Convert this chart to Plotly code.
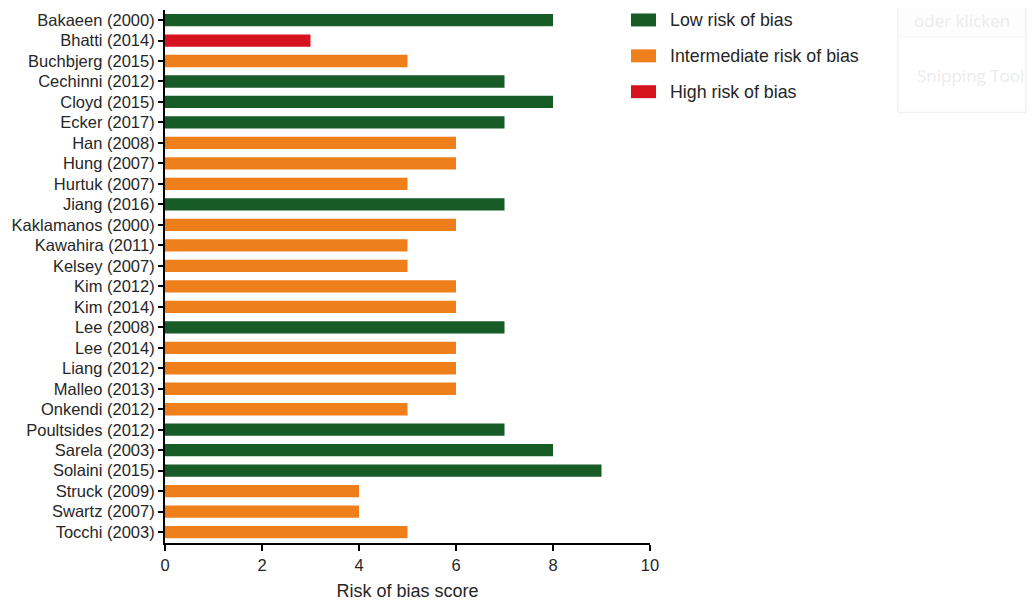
import plotly.graph_objects as go

studies = ["Bakaeen (2000)", "Bhatti (2014)", "Buchbjerg (2015)", "Cechinni (2012)", "Cloyd (2015)",
           "Ecker (2017)", "Han (2008)", "Hung (2007)", "Hurtuk (2007)", "Jiang (2016)",
           "Kaklamanos (2000)", "Kawahira (2011)", "Kelsey (2007)", "Kim (2012)", "Kim (2014)",
           "Lee (2008)", "Lee (2014)", "Liang (2012)", "Malleo (2013)", "Onkendi (2012)",
           "Poultsides (2012)", "Sarela (2003)", "Solaini (2015)", "Struck (2009)", "Swartz (2007)",
           "Tocchi (2003)"]
scores = [8, 3, 5, 7, 8, 7, 6, 6, 5, 7, 6, 5, 5, 6, 6, 7, 6, 6, 6, 5, 7, 8, 9, 4, 4, 5]
risk = ["Low", "High", "Intermediate", "Low", "Low", "Low", "Intermediate", "Intermediate",
        "Intermediate", "Low", "Intermediate", "Intermediate", "Intermediate", "Intermediate",
        "Intermediate", "Low", "Intermediate", "Intermediate", "Intermediate", "Intermediate",
        "Low", "Low", "Low", "Intermediate", "Intermediate", "Intermediate"]
levels = ["Low", "Intermediate", "High"]
legend_labels = ["Low risk of bias", "Intermediate risk of bias", "High risk of bias"]
colors = {"Low": "#175b26", "Intermediate": "#ee7f1a", "High": "#d5131e"}

OFF = 8  # page body margin
W, H = 1035 - OFF, 601 - OFF
L, T, B = 165 - OFF, 10 - OFF, 56
pw = 485
R = W - L - pw
ph = H - T - B

fig = go.Figure()
for lv in levels:
    ys = [s for s, r in zip(studies, risk) if r == lv]
    xs = [v for v, r in zip(scores, risk) if r == lv]
    fig.add_trace(go.Bar(x=xs, y=ys, orientation="h", marker=dict(color=colors[lv], line=dict(width=0)),
                         width=0.6, showlegend=False, name=lv))

font = "Liberation Sans, Arial, sans-serif"
fig.update_layout(
    width=W, height=H,
    margin=dict(l=L, r=R, t=T, b=B, pad=0),
    paper_bgcolor="white", plot_bgcolor="white",
    barmode="overlay",
    font=dict(family=font, color="#262626"),
    xaxis=dict(range=[0, 10], tickvals=[0, 2, 4, 6, 8, 10], showgrid=False, zeroline=False,
               showline=True, linecolor="black", linewidth=2, ticks="outside", ticklen=6,
               tickwidth=2, tickcolor="black", tickfont=dict(size=16.5, family=font, color="#262626"),
               title=dict(text="Risk of bias score", font=dict(size=18, family=font, color="#262626"),
                          standoff=13)),
    yaxis=dict(type="category", categoryorder="array", categoryarray=studies,
               range=[len(studies) - 1 + 0.53, -0.49], showgrid=False, zeroline=False,
               showline=True, linecolor="black", linewidth=2, ticks="outside", ticklen=5,
               tickwidth=2, tickcolor="black", tickfont=dict(size=16.5, family=font, color="#262626")),
)

def px_x(s):
    return (s - OFF - L) / pw

def px_y(s):
    return 1 - (s - OFF - T) / ph

# manual legend
for i, (lv, lab) in enumerate(zip(levels, legend_labels)):
    cy = 20 + 36 * i
    fig.add_shape(type="rect", xref="paper", yref="paper",
                  x0=px_x(631), x1=px_x(656), y0=px_y(cy - 6.5), y1=px_y(cy + 6.5),
                  fillcolor=colors[lv], line=dict(width=0))
    fig.add_annotation(xref="paper", yref="paper", x=px_x(668), y=px_y(cy), text=lab,
                       showarrow=False, xanchor="left", yanchor="middle",
                       font=dict(size=17.8, family=font, color="#262626"))

# faint screenshot overlay box
fig.add_shape(type="rect", xref="paper", yref="paper", x0=px_x(898), x1=px_x(1026),
              y0=px_y(37), y1=px_y(0), fillcolor="#fdfdfd", line=dict(width=0), layer="below")
fig.add_shape(type="rect", xref="paper", yref="paper", x0=px_x(898), x1=px_x(1026),
              y0=px_y(113), y1=px_y(0), fillcolor="rgba(255,255,255,0)",
              line=dict(color="#f2f2f2", width=1.5))
fig.add_shape(type="line", xref="paper", yref="paper", x0=px_x(898), x1=px_x(1026),
              y0=px_y(37), y1=px_y(37), line=dict(color="#f5f5f5", width=1))
fig.add_annotation(xref="paper", yref="paper", x=px_x(913), y=px_y(21), text="oder klicken",
                   showarrow=False, xanchor="left", yanchor="middle", borderpad=0,
                   font=dict(size=17, family="Open Sans, sans-serif", color="#ececec"))
fig.add_annotation(xref="paper", yref="paper", x=px_x(916), y=px_y(76), text="Snipping Tool",
                   showarrow=False, xanchor="left", yanchor="middle", borderpad=0,
                   font=dict(size=17, family="Open Sans, sans-serif", color="#ececec"))

fig.write_html("out.html")
